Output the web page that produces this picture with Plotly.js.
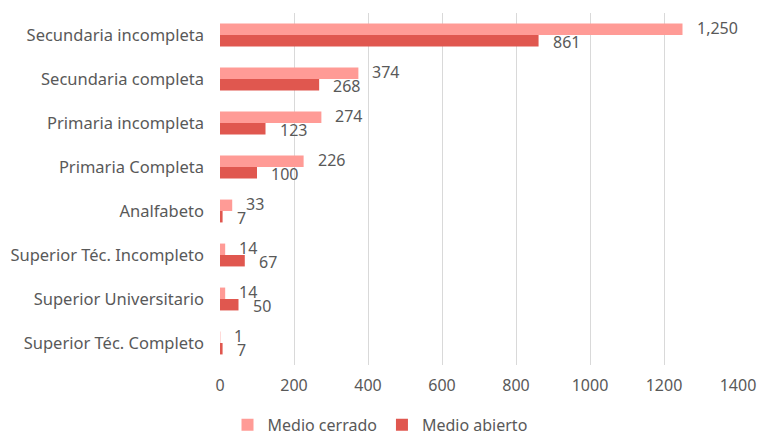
<!DOCTYPE html>
<html>
<head>
<meta charset="utf-8">
<script src="https://cdn.plot.ly/plotly-3.0.1.min.js"></script>
<style>html,body{margin:0;padding:0;background:#fff;}#chart{width:760px;height:441px;}</style>
</head>
<body>
<div id="chart"></div>
<script>
const categories = ["Secundaria incompleta","Secundaria completa","Primaria incompleta","Primaria Completa","Analfabeto","Superior Téc. Incompleto","Superior Universitario","Superior Téc. Completo"];
const medioCerrado = [1250, 374, 274, 226, 33, 14, 14, 1];
const medioAbierto = [861, 268, 123, 100, 7, 67, 50, 7];
const seriesNames = ["Medio cerrado", "Medio abierto"];
const xTicks = [0, 200, 400, 600, 800, 1000, 1200, 1400];

const fontFam = "Noto Sans, Open Sans, sans-serif";
const grey = "#595959";

const traces = [
  {type:'bar', orientation:'h', name:seriesNames[0], y:categories, x:medioCerrado, marker:{color:'#FF9B96'}, hoverinfo:'x'},
  {type:'bar', orientation:'h', name:seriesNames[1], y:categories, x:medioAbierto, marker:{color:'#E0574F'}, hoverinfo:'x'}
];

const annotations = [];
categories.forEach((c, i) => {
  annotations.push({x: medioCerrado[i], y: c, xref:'x', yref:'y', text: medioCerrado[i].toLocaleString('en-US'),
    showarrow:false, xanchor:'left', yanchor:'middle', xshift:12, yshift:7, font:{family:fontFam, size:16, color:grey}});
  annotations.push({x: medioAbierto[i], y: c, xref:'x', yref:'y', text: medioAbierto[i].toLocaleString('en-US'),
    showarrow:false, xanchor:'left', yanchor:'middle', xshift:12, yshift:-7, font:{family:fontFam, size:16, color:grey}});
});

const layout = {
  width:760, height:441,
  margin:{l:220, r:22, t:13, b:76, pad:0},
  paper_bgcolor:'#fff', plot_bgcolor:'#fff',
  barmode:'group', bargap:0.48, bargroupgap:0,
  font:{family:fontFam, color:grey, size:16},
  xaxis:{range:[0,1400], tickvals:xTicks, ticktext:xTicks.map(String), showgrid:true, gridcolor:'#D9D9D9', gridwidth:1,
    zeroline:false, showline:false, ticks:'', ticklen:0, ticklabelstandoff:9, tickfont:{family:fontFam, size:16, color:grey}, automargin:false, fixedrange:true},
  yaxis:{autorange:'reversed', type:'category', showgrid:false, zeroline:false, showline:false, ticks:'',
    ticklabelstandoff:15, tickfont:{family:fontFam, size:16.5, color:grey}, automargin:false, fixedrange:true},
  showlegend:true,
  legend:{orientation:'h', xref:'container', yref:'container', x:0.5, xanchor:'center', y:0.075, yanchor:'top',
    font:{family:fontFam, size:16, color:grey}, traceorder:'normal', itemwidth:30, tracegroupgap:0},
  annotations: annotations
};

Plotly.newPlot('chart', traces, layout, {displayModeBar:false, staticPlot:true});
</script>
</body>
</html>
